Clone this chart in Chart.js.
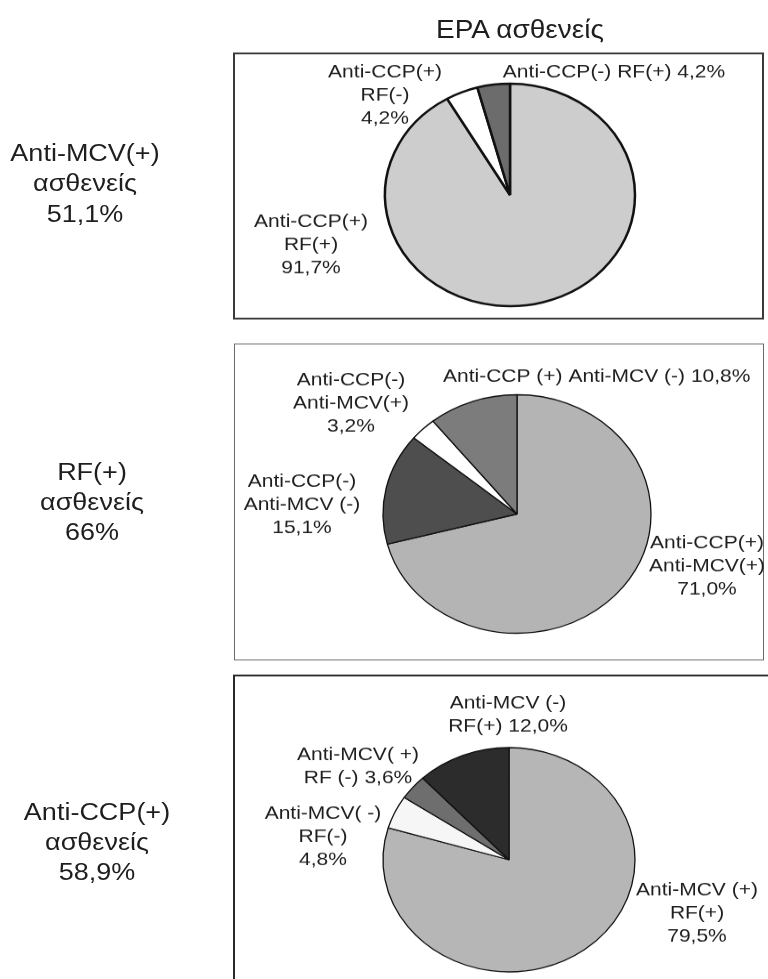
<!DOCTYPE html>
<html>
<head>
<meta charset="utf-8">
<script src="https://cdn.jsdelivr.net/npm/chart.js@4/dist/chart.umd.min.js"></script>
<style>
  html, body { margin:0; padding:0; background:#fff; overflow:hidden; }
  #fig { position:absolute; left:0; top:0; width:768px; height:1100px;
         transform:scaleY(0.89); transform-origin:0 0;
         font-family:"Liberation Sans", Arial, sans-serif; color:#1e1e1e; }
  .title { position:absolute; left:320px; width:400px; top:14px; text-align:center;
           font-size:28px; line-height:40px; }
  .side { position:absolute; width:220px; text-align:center; font-size:27px; line-height:34px; }
  .panel { position:absolute; box-sizing:border-box; }
  canvas { position:absolute; left:0; }
</style>
</head>
<body>
<div id="fig">
  <div class="title">EPA ασθενείς</div>
  <div class="side" id="side1" style="left:-25px; top:155px;"></div>
  <div class="side" id="side2" style="left:-18px; top:513px;"></div>
  <div class="side" id="side3" style="left:-13px; top:895px;"></div>

  <div class="panel" style="left:233px; top:59px; width:531px; height:300px; border:2px solid #3a3a3a;"></div>
  <div class="panel" style="left:234px; top:386px; width:530px; height:356px; border:1.5px solid #6a6a6a;"></div>
  <div class="panel" style="left:233px; top:758px; width:560px; height:400px; border:2px solid #2a2a2a;"></div>

  <canvas id="c1" width="768" height="340" style="top:40px;"></canvas>
  <canvas id="c2" width="768" height="370" style="top:380px;"></canvas>
  <canvas id="c3" width="768" height="350" style="top:750px;"></canvas>
</div>
<script>
// ---------- data ----------
const sideGroups = [
  ["Anti-MCV(+)", "ασθενείς", "51,1%"],
  ["RF(+)", "ασθενείς", "66%"],
  ["Anti-CCP(+)", "ασθενείς", "58,9%"]
];

const p1Categories = [["Anti-CCP(+)", "RF(+)"], ["Anti-CCP(+)", "RF(-)"], ["Anti-CCP(-) RF(+)"]];
const p1Values = [91.7, 4.2, 4.2];

const p2Categories = [["Anti-CCP(+)", "Anti-MCV(+)"], ["Anti-CCP(-)", "Anti-MCV (-)"], ["Anti-CCP(-)", "Anti-MCV(+)"], ["Anti-CCP (+) Anti-MCV (-)"]];
const p2Values = [71.0, 15.1, 3.2, 10.8];

const p3Categories = [["Anti-MCV (+)", "RF(+)"], ["Anti-MCV( -)", "RF(-)"], ["Anti-MCV( +)", "RF (-)"], ["Anti-MCV (-)", "RF(+)"]];
const p3Values = [79.5, 4.8, 3.6, 12.0];

// ---------- styles / layout ----------
const p1Colors = ["#cdcdcd", "#ffffff", "#6c6c6c"];
const p2Colors = ["#b4b4b4", "#4e4e4e", "#ffffff", "#7c7c7c"];
const p3Colors = ["#b6b6b6", "#f6f6f6", "#6e6e6e", "#2c2c2c"];

// label placement relative to pie centre (dx, dy of first line), inline = value on last line
const p1Layout = [
  {dx:-199, dy:30, inline:false},
  {dx:-125, dy:-138, inline:false},
  {dx:104, dy:-138, inline:true}
];
const p2Layout = [
  {dx:190, dy:33, inline:false},
  {dx:-215, dy:-36, inline:false},
  {dx:-166, dy:-150, inline:false},
  {dx:-74, dy:-154, inline:true, align:'left'}
];
const p3Layout = [
  {dx:188, dy:34, inline:false},
  {dx:-186, dy:-52, inline:false},
  {dx:-151, dy:-118, inline:true},
  {dx:-1, dy:-176, inline:true}
];

const fmt = v => v.toFixed(1).replace('.', ',') + '%';

sideGroups.forEach((g, i) => {
  document.getElementById('side' + (i + 1)).innerHTML = g.join('<br>');
});

const sliceLabels = {
  id: 'sliceLabels',
  afterDraw(chart, args, opts) {
    const ctx = chart.ctx;
    const arc = chart.getDatasetMeta(0).data[0];
    const cx = arc.x, cy = arc.y;
    const values = chart.data.datasets[0].data;
    ctx.save();
    ctx.font = '21px "Liberation Sans", Arial, sans-serif';
    ctx.fillStyle = '#1e1e1e';
    ctx.textBaseline = 'middle';
    opts.categories.forEach((cat, i) => {
      const lay = opts.layout[i];
      const lines = cat.slice();
      if (lay.inline) lines[lines.length - 1] += ' ' + fmt(values[i]);
      else lines.push(fmt(values[i]));
      ctx.textAlign = lay.align || 'center';
      lines.forEach((ln, k) => ctx.fillText(ln, cx + lay.dx, cy + lay.dy + k * 26));
    });
    ctx.restore();
  }
};

function makePie(id, values, colors, categories, layout, cx, cyRel, r, bw) {
  const cv = document.getElementById(id);
  const W = cv.width, H = cv.height, R = r + 4;
  new Chart(cv, {
    type: 'pie',
    data: {
      labels: categories.map(c => c.join(' ')),
      datasets: [{ data: values, backgroundColor: colors, borderColor: '#111', borderWidth: bw }]
    },
    options: {
      responsive: false,
      animation: false,
      devicePixelRatio: 1,
      radius: r,
      layout: { padding: { left: cx - R, right: W - cx - R, top: cyRel - R, bottom: H - cyRel - R } },
      plugins: {
        legend: { display: false },
        tooltip: { enabled: false },
        sliceLabels: { categories: categories, layout: layout }
      }
    },
    plugins: [sliceLabels]
  });
}

makePie('c1', p1Values, p1Colors, p1Categories, p1Layout, 510, 179, 125, 2.5);
makePie('c2', p2Values, p2Colors, p2Categories, p2Layout, 517, 197.5, 134, 1.3);
makePie('c3', p3Values, p3Colors, p3Categories, p3Layout, 509, 216, 126, 1.3);
</script>
</body>
</html>
